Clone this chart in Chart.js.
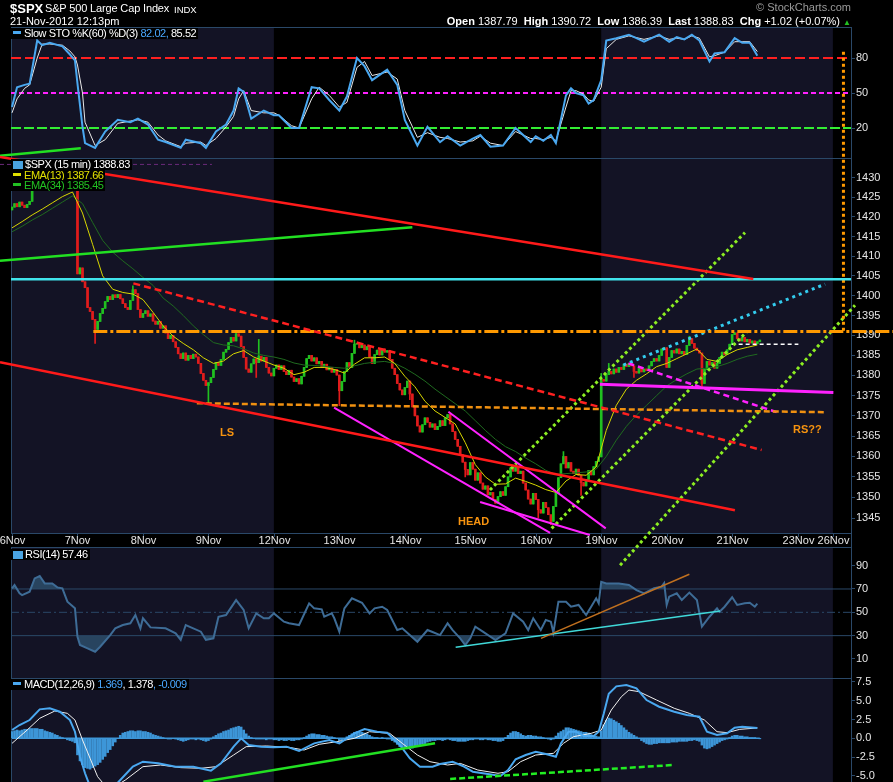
<!DOCTYPE html>
<html>
<head>
<meta charset="utf-8">
<title>$SPX 15 min</title>
<script src="https://cdn.jsdelivr.net/npm/chart.js"></script>
<style>
  body { margin: 0; background: #000; width: 893px; height: 782px; overflow: hidden; position: relative;
         font-family: "Liberation Sans", Arial, sans-serif; }
  #spx { position: absolute; left: 0; top: 0; }
  .t { position: absolute; white-space: nowrap; color: #fff; }
  .lg { position: absolute; white-space: nowrap; background: #000; color: #fff; font-size: 11px;
        letter-spacing: -0.45px; line-height: 11px; padding: 0 2px 0 2px; }
  .bar { display: inline-block; width: 8px; height: 3px; vertical-align: 3px; margin-right: 3px; }
  .ic { display: inline-block; width: 10px; height: 8px; vertical-align: -1px; margin-right: 2px; background: #4aa3e0; }
  .note { position: absolute; white-space: nowrap; color: #f7930f; font-weight: bold; font-size: 11px; }
  .blue { color: #4aa8ff; }
</style>
</head>
<body>
<canvas id="spx" width="893" height="782"></canvas>

<div class="t" style="left:10px;top:1px;font-size:13px;font-weight:bold">$SPX</div>
<div class="t" style="left:45px;top:2px;font-size:11px;letter-spacing:-0.15px">S&amp;P 500 Large Cap Index</div>
<div class="t" style="left:174px;top:4px;font-size:9.5px">INDX</div>
<div class="t" style="left:10px;top:15px;font-size:11px">21-Nov-2012 12:13pm</div>
<div class="t" style="right:42px;top:1px;font-size:11px;color:#9a9a9a">&copy; StockCharts.com</div>
<div class="t" style="right:42px;top:15px;font-size:11px"><b>Open</b> 1387.79&nbsp; <b>High</b> 1390.72&nbsp; <b>Low</b> 1386.39&nbsp; <b>Last</b> 1388.83&nbsp; <b>Chg</b> +1.02 (+0.07%) <span style="color:#22c022;font-size:8px">&#9650;</span></div>

<div class="lg" style="left:11px;top:28px"><span class="bar" style="background:#4aa8f0"></span>Slow STO %K(60) %D(3) <span class="blue">82.02,</span> 85.52</div>
<div class="lg" style="left:11px;top:159px"><span class="ic"></span>$SPX (15 min) 1388.83</div>
<div class="lg" style="left:11px;top:170px;color:#e0e000"><span class="bar" style="background:#e0e000"></span>EMA(13) 1387.66</div>
<div class="lg" style="left:11px;top:180px;color:#22c022"><span class="bar" style="background:#22c022"></span>EMA(34) 1385.45</div>
<div class="lg" style="left:11px;top:549px"><span class="ic"></span>RSI(14) 57.46</div>
<div class="lg" style="left:11px;top:679px"><span class="bar" style="background:#4aa8f0"></span>MACD(12,26,9) <span class="blue">1.369</span>, 1.378<span class="blue">, -0.009</span></div>

<div class="note" style="left:220px;top:426px">LS</div>
<div class="note" style="left:458px;top:515px">HEAD</div>
<div class="note" style="left:793px;top:423px">RS??</div>

<script>
// ---- time axis: one step per 15 min bar, 26 bars per session (23Nov half day) ----
const dayLabels = ['6Nov', '7Nov', '8Nov', '9Nov', '12Nov', '13Nov', '14Nov', '15Nov', '16Nov', '19Nov', '20Nov', '21Nov', '23Nov', '26Nov'];
const dayStart = [0, 26, 52, 78, 104, 130, 156, 182, 208, 234, 260, 286, 312, 326];
const shadedWeeks = [[-0.4, 104], [234, 326]];

// ---- $SPX 15 min closes ----
const firstOpen = 1421.8;
const closes = [
  1422.5, 1423.4, 1422.6, 1423.8, 1423.0, 1422.4, 1423.2, 1424.0, 1426.8, 1427.4, 1426.9, 1428.0, 1427.5,
  1428.6, 1429.2, 1428.7, 1429.5, 1429.0, 1428.4, 1428.9, 1428.2, 1428.7, 1427.9, 1428.5, 1427.8, 1428.4,
  1405.5, 1407.0, 1403.5, 1402.0, 1397.0, 1396.0, 1394.0, 1391.5, 1393.5, 1395.5, 1396.8, 1398.5, 1399.8,
  1399.0, 1400.2, 1399.5, 1400.3, 1399.2, 1398.0, 1397.0, 1396.5, 1398.8, 1401.5, 1400.5, 1396.5, 1394.5,
  1395.5, 1396.2, 1394.8, 1395.4, 1393.6, 1392.8, 1393.5, 1391.8, 1392.4, 1390.6, 1389.2, 1390.0, 1388.4,
  1387.0, 1385.4, 1384.2, 1385.6, 1383.8, 1385.0, 1384.2, 1385.3, 1384.6, 1383.0, 1380.5, 1378.8, 1377.5,
  1378.2, 1379.5, 1381.5, 1383.2, 1382.5, 1384.0, 1385.8, 1386.5, 1388.2, 1389.5, 1388.6, 1390.4, 1389.8,
  1387.2, 1384.5, 1381.6, 1380.8, 1382.9, 1384.1, 1383.2, 1384.8, 1383.6, 1384.5, 1382.0, 1380.6, 1379.9,
  1381.8, 1382.6, 1381.5, 1382.4, 1381.0, 1380.2, 1381.3, 1379.6, 1378.5, 1379.2, 1377.9, 1379.8, 1382.0,
  1384.2, 1385.0, 1383.6, 1384.4, 1382.9, 1383.5, 1382.1, 1382.8, 1381.4, 1382.0, 1380.8, 1381.5, 1380.1,
  1376.2, 1378.5, 1381.0, 1383.2, 1382.0, 1385.5, 1387.8, 1388.0, 1386.9, 1387.6, 1386.4, 1387.2, 1384.6,
  1383.0, 1385.2, 1386.3, 1385.1, 1386.6, 1385.8, 1386.2, 1384.0, 1381.8, 1380.2, 1378.0, 1376.4, 1375.2,
  1377.0, 1378.6, 1375.4, 1372.2, 1370.0, 1367.5, 1366.0, 1367.8, 1369.5, 1368.4, 1367.2, 1368.0, 1366.6,
  1367.4, 1368.8, 1367.6, 1369.5, 1370.3, 1368.0, 1366.1, 1364.2, 1362.5, 1360.4, 1358.6, 1356.8, 1355.5,
  1358.5, 1356.9, 1354.2, 1356.0, 1353.5, 1352.0, 1352.8, 1350.6, 1351.2, 1349.5, 1348.6, 1350.2, 1351.4,
  1350.5, 1352.6, 1355.0, 1357.2, 1356.4, 1357.5, 1355.8, 1356.4, 1353.5, 1351.8, 1349.6, 1348.4, 1351.0,
  1349.5, 1347.0, 1346.2, 1348.8, 1347.5, 1345.8, 1344.2, 1347.8, 1351.0, 1354.8, 1358.2, 1360.0, 1357.2,
  1358.5, 1356.4, 1355.8, 1356.9, 1355.4, 1353.6, 1352.8, 1354.4, 1356.6, 1355.5, 1357.5, 1358.8, 1359.9,
  1379.0, 1378.6, 1380.2, 1381.0, 1380.4, 1381.6, 1380.8, 1382.0, 1381.5, 1382.8, 1382.2, 1383.0, 1382.4,
  1381.0, 1380.6, 1381.8, 1380.9, 1381.6, 1381.2, 1382.4, 1383.5, 1384.2, 1383.6, 1385.0, 1386.6, 1386.9,
  1382.0, 1384.5, 1386.2, 1385.6, 1386.6, 1385.4, 1386.0, 1385.2, 1387.5, 1389.2, 1388.0, 1386.8, 1386.2,
  1385.6, 1378.0, 1381.5, 1383.5, 1382.6, 1383.2, 1381.8, 1383.0, 1384.5, 1385.8, 1385.2, 1386.4, 1387.8,
  1390.2, 1390.6, 1389.2, 1388.6, 1389.5, 1388.4, 1389.0, 1388.1, 1388.6, 1387.9, 1388.4, 1388.83
];
// notable wicks [bar, price]
const wickHigh = [[26, 1428.6], [48, 1402.5], [89, 1391.2], [98, 1389.0], [136, 1388.8], [219, 1361.2],
                  [234, 1380.5], [237, 1383.0], [269, 1389.8], [287, 1390.72]];
const wickLow = [[33, 1388.0], [78, 1373.0], [97, 1379.5], [130, 1372.5], [158, 1374.0], [180, 1355.0],
                 [209, 1345.0], [214, 1343.4], [226, 1350.5], [247, 1379.5], [274, 1377.2]];

// ---- moving averages, read every 4 bars ----
const emaStep = 4;
const ema13 = [
  1417.2, 1418.8, 1420.5, 1422.0, 1423.6, 1425.2, 1426.4, 1421.0, 1413.0, 1405.0, 1401.6, 1400.8, 1400.4,
  1399.0, 1395.8, 1392.4, 1389.8, 1388.0, 1386.4, 1384.4, 1383.0, 1383.6, 1385.4, 1386.2, 1384.6, 1383.6,
  1382.6, 1381.8, 1380.2, 1380.8, 1382.0, 1382.0, 1381.5, 1380.6, 1382.8, 1384.4, 1384.4, 1384.6, 1383.0,
  1379.8, 1377.2, 1373.6, 1371.2, 1369.6, 1368.0, 1363.4, 1358.0, 1355.0, 1353.2, 1353.3, 1354.7, 1353.9,
  1353.0, 1351.9, 1351.2, 1354.0, 1355.6, 1355.4, 1357.4, 1366.4, 1372.6, 1376.6, 1378.8, 1380.4, 1382.2,
  1383.0, 1384.2, 1385.4, 1386.6, 1384.0, 1383.5, 1385.2, 1386.4, 1387.0, 1387.6
];
const ema34 = [
  1416.2, 1417.6, 1419.2, 1420.6, 1422.2, 1423.8, 1425.4, 1423.4, 1418.6, 1414.0, 1411.0, 1408.8, 1406.8,
  1404.6, 1402.6, 1399.4, 1397.4, 1395.0, 1392.4, 1390.2, 1388.2, 1387.6, 1387.4, 1386.6, 1385.6, 1385.0,
  1384.6, 1384.0, 1383.1, 1382.6, 1382.5, 1382.3, 1382.0, 1381.8, 1382.4, 1383.0, 1383.3, 1383.5, 1383.0,
  1381.8, 1380.3, 1378.6, 1376.6, 1374.8, 1373.0, 1371.2, 1368.8, 1366.4, 1364.2, 1362.4, 1361.2, 1359.6,
  1358.2, 1356.6, 1355.6, 1355.8, 1356.0, 1356.2, 1356.9, 1360.0, 1364.0, 1367.4, 1370.2, 1372.6, 1375.0,
  1377.4, 1379.0, 1380.4, 1381.6, 1381.8, 1382.2, 1383.0, 1384.0, 1384.8, 1385.3
];

// ---- Slow STO %K(60) %D(3) ----
const stoIdx = [0, 2, 5, 7, 10, 12, 15, 20, 23, 25, 26, 28, 29, 33, 37, 42, 47, 50, 54, 58, 61, 67, 69, 75, 77, 81,
  85, 88, 90, 92, 95, 100, 104, 106, 111, 114, 119, 122, 126, 130, 133, 137, 140, 143, 149, 153, 156, 161, 165,
  170, 173, 178, 183, 186, 190, 195, 200, 206, 208, 211, 214, 216, 220, 222, 224, 227, 229, 231, 234, 236, 240,
  245, 251, 257, 261, 264, 267, 270, 273, 277, 279, 283, 287, 290, 293, 296];
const stoK = [38, 55, 57, 58, 95, 91, 93, 90, 83, 78, 58, 21, 7, 3, 17, 27, 25, 28, 23, 10, 8, 3, 10, 7, 3, 17,
  23, 35, 54, 51, 28, 35, 31, 31, 20, 20, 55, 54, 44, 35, 47, 80, 73, 61, 70, 57, 27, 5, 21,
  8, 13, 5, 11, 14, 4, 5, 20, 8, 13, 9, 14, 7, 48, 54, 50, 48, 41, 44, 61, 95, 97,
  100, 94, 100, 94, 98, 96, 100, 95, 77, 84, 85, 97, 93, 93, 82.02];
const stoD = [33, 45, 54, 57, 80, 92, 92, 91, 86, 81, 74, 50, 25, 5, 10, 24, 26, 27, 25, 14, 9, 4, 7, 8, 5, 11,
  21, 30, 45, 52, 35, 33, 33, 31, 22, 20, 45, 55, 48, 38, 42, 72, 77, 65, 68, 62, 35, 12, 16,
  12, 11, 8, 9, 13, 7, 5, 17, 11, 11, 10, 12, 9, 38, 52, 52, 49, 44, 43, 55, 88, 96,
  99, 96, 99, 96, 97, 96, 99, 97, 81, 82, 85, 94, 94, 94, 85.52];
const stoLevels = [80, 50, 20];

// ---- RSI(14) [bar, value] ----
const rsi = [[0, 70.6], [1, 73.4], [3, 66.3], [4, 64.8], [7, 67.7], [9, 79.1], [11, 81.1], [13, 74.8], [16, 74.8],
  [18, 71.4], [20, 70.6], [22, 59.1], [25, 53.4], [26, 29.1], [27, 22], [30, 19.1], [33, 16.2], [35, 20.5],
  [39, 30.5], [41, 36.3], [44, 39.1], [47, 40.6], [49, 47.7], [51, 36.3], [52, 44.9], [55, 37.1], [61, 36.3],
  [65, 32], [67, 26.3], [69, 39.1], [75, 33.4], [77, 26.3], [80, 27.7], [82, 46.2], [85, 47.7], [89, 60.5],
  [92, 52], [94, 36.3], [97, 49.1], [100, 44.9], [102, 44.9], [104, 49.1], [108, 42], [110, 40.6], [114, 39.1],
  [118, 57.7], [120, 53.4], [123, 52.6], [124, 46.2], [127, 49.1], [128, 44.9], [130, 33.4], [132, 53.4],
  [135, 62], [139, 58.2], [142, 49.1], [144, 53.4], [147, 54.8], [149, 52], [153, 34.8], [155, 36.3],
  [161, 24.8], [165, 34.8], [167, 33.1], [170, 30.5], [173, 40.6], [175, 34.8], [178, 27.7], [180, 22],
  [182, 27.7], [184, 37.7], [187, 33.4], [192, 26.3], [196, 32], [199, 49.1], [203, 42], [205, 34.8],
  [207, 44.9], [210, 34.8], [212, 43.4], [214, 42], [215, 32.6], [217, 59.1], [220, 59.1], [222, 54.8],
  [225, 56.3], [228, 47.7], [230, 54.8], [232, 62], [233, 57.7], [234, 76.2], [236, 74.8], [241, 74.8],
  [245, 73.4], [248, 69.1], [251, 66.3], [255, 70.6], [258, 72], [259, 75], [260, 56.3], [261, 63.4],
  [264, 66.3], [266, 60.5], [269, 66.9], [272, 60.5], [274, 37.7], [277, 46.2], [280, 53.4], [281, 50.5],
  [283, 54.8], [286, 62.9], [288, 56.3], [291, 57.7], [293, 58.2], [295, 54.8], [296, 57.46]];
const rsiLevels = [70, 50, 30];

// ---- MACD(12,26,9) [bar, value] ----
const macd = [[0, 1.1], [3, 1.77], [7, 2.43], [11, 3.85], [15, 3.99], [19, 3.54], [23, 2.43], [25, 0.88],
  [27, -2.45], [29, -4.65], [31, -6.4], [34, -7.5], [37, -7.4], [40, -6.6], [43, -5.55], [48, -3.77],
  [52, -3.11], [58, -3.33], [65, -3.77], [72, -3.77], [79, -4.3], [83, -3.33], [88, -1.11], [91, 0],
  [94, -0.89], [99, -1.11], [104, -1.2], [109, -1.11], [114, -1.69], [120, -0.67], [126, -0.22], [130, -0.67],
  [136, 0.66], [140, 1.24], [145, 0.88], [149, 0.75], [154, -0.89], [158, -2.66], [162, -3.77], [167, -3.77],
  [170, -3.42], [175, -3.11], [179, -3.68], [183, -4.44], [189, -4.75], [194, -5.01], [197, -4.22],
  [200, -2.79], [204, -2.22], [208, -1.78], [212, -2.09], [216, -2.45], [218, -0.67], [221, 0.88],
  [224, 0.88], [227, 0.31], [231, 0.31], [233, 0.88], [235, 3.27], [237, 5.93], [240, 6.91], [244, 7.09],
  [248, 6.65], [252, 5.09], [257, 4.2], [263, 3.54], [268, 3.1], [273, 2.87], [276, 0.88], [280, 0.44],
  [284, 0.66], [287, 1.41], [290, 1.54], [296, 1.369]];
const signal = [[0, -0.67], [6, 1.1], [11, 2.66], [17, 3.63], [22, 3.32], [25, 2.43], [28, -0.22], [31, -2.66],
  [34, -5.1], [37, -6.3], [41, -6.4], [45, -5.55], [52, -3.77], [59, -3.55], [67, -3.9], [75, -3.99],
  [81, -3.77], [88, -2.22], [93, -1.11], [101, -1.02], [110, -1.2], [116, -1.56], [122, -0.8], [129, -0.45],
  [136, 0], [142, 0.88], [150, 0.66], [155, -0.67], [161, -2.22], [166, -3.11], [173, -3.55], [178, -3.33],
  [185, -4.22], [193, -4.65], [197, -4.44], [202, -3.11], [208, -2.22], [215, -2], [219, -0.67], [223, 0.22],
  [230, 0.66], [234, 1.1], [238, 3.76], [242, 5.53], [245, 6.42], [249, 6.2], [256, 5.09], [263, 3.99],
  [269, 3.32], [275, 2.43], [280, 0.88], [284, 0.75], [289, 1.19], [296, 1.378]];
const histogram = [
  0.9, 1.0, 1.1, 1.0, 1.1, 1.2, 1.2, 1.3, 1.3, 1.3, 1.3, 1.2, 1.2, 1.0, 0.9, 0.8, 0.7, 0.5, 0.4, 0.2,
  0.1, 0.0, -0.2, -0.3, -0.4, -0.6, -2.2, -3.0, -3.5, -3.9, -4.0, -4.1, -3.9, -3.7, -3.5, -3.2, -2.8, -2.4, -1.9, -1.5,
  -1.0, -0.5, 0.0, 0.4, 0.7, 0.8, 0.9, 1.0, 1.0, 0.9, 1.0, 1.0, 0.9, 0.9, 0.8, 0.7, 0.5, 0.4, 0.3, 0.2,
  0.1, 0.0, -0.1, -0.1, 0.0, -0.1, -0.2, -0.3, -0.4, -0.3, -0.2, -0.1, -0.1, -0.2, -0.1, -0.2, -0.3, -0.4, -0.3, -0.1,
  0.2, 0.4, 0.6, 0.7, 0.9, 1.0, 1.1, 1.3, 1.4, 1.5, 1.6, 1.5, 1.1, 0.6, 0.3, 0.1, 0.0, -0.1, -0.1, -0.1,
  -0.1, -0.2, -0.1, -0.1, -0.2, -0.2, -0.3, -0.2, -0.3, -0.3, -0.2, -0.3, -0.3, -0.2, -0.2, -0.1, 0.1, 0.3, 0.5, 0.6,
  0.6, 0.5, 0.5, 0.4, 0.4, 0.3, 0.2, 0.2, 0.1, 0.0, -0.3, -0.2, -0.1, 0.2, 0.4, 0.6, 0.8, 0.9, 0.8, 0.8,
  0.7, 0.6, 0.4, 0.2, 0.1, 0.1, 0.0, 0.1, 0.0, -0.1, -0.1, -0.3, -0.5, -0.8, -1.1, -1.2, -1.3, -1.4, -1.3, -1.3,
  -1.1, -1.0, -0.9, -0.8, -0.7, -0.5, -0.4, -0.3, -0.3, -0.2, -0.2, -0.3, -0.2, -0.1, -0.2, -0.3, -0.3, -0.4, -0.4, -0.4,
  -0.4, -0.3, -0.2, -0.2, -0.1, -0.1, -0.2, -0.2, -0.1, -0.2, -0.2, -0.3, -0.3, -0.4, -0.4, -0.3, 0.1, 0.4, 0.7, 0.9,
  0.9, 0.8, 0.6, 0.4, 0.3, 0.4, 0.4, 0.3, 0.3, 0.2, 0.2, 0.1, 0.0, -0.1, -0.2, -0.1, 0.3, 0.7, 0.9, 1.1,
  1.4, 1.4, 1.3, 1.2, 1.1, 1.0, 0.9, 0.8, 0.8, 0.7, 0.5, 0.4, 0.3, 0.2, 1.0, 1.8, 2.4, 2.7, 2.6, 2.4,
  2.2, 2.0, 1.7, 1.4, 1.1, 0.8, 0.6, 0.4, 0.2, 0.0, -0.3, -0.5, -0.7, -0.8, -0.8, -0.7, -0.7, -0.6, -0.6, -0.6,
  -0.6, -0.6, -0.5, -0.5, -0.5, -0.4, -0.4, -0.4, -0.4, -0.3, -0.3, -0.2, -0.3, -0.4, -0.9, -1.3, -1.4, -1.3, -1.1, -0.9,
  -0.7, -0.5, -0.3, -0.2, -0.1, 0.1, 0.3, 0.4, 0.4, 0.3, 0.3, 0.2, 0.2, 0.1, 0.1, 0.1, 0.0, -0.01
];

// ---- hand drawn annotations, endpoints as [bar, value] ----
const redTopLine = [[-4.77, 1435.4], [294.4, 1404.2]];
const redLowLine = [[-4.77, 1383.3], [287.1, 1346.9]];
const redDashLine = [[48.2, 1403.1], [297.7, 1361.6]];
const greenPriceLine = [[-4.77, 1408.84], [159.0, 1417.35]];
const greenStoLine = [[-4.77, -3.75], [27.3, 2.6]];
const cyanLevel = [[-0.4, 1404.13], [333.2, 1404.13]];
const orangeLevel = [[32.3, 1391.0], [349.9, 1391.0]];
const orangeVertical = [[330.2, 1462.9], [330.2, 1390.6]];
const necklineLine = [[73.4, 1373.1], [322.9, 1370.9]];
const wedgeLines = [[[127.9, 1372.0], [213.7, 1341.4]], [[173.3, 1371.0], [235.8, 1342.5]], [[185.9, 1348.9], [229.5, 1340.9]]];
const magentaSupport = [[233.5, 1377.8], [326.2, 1375.8]];
const magentaDash = [[244.8, 1383.0], [303.7, 1370.9]];
const channelLines = [[[189.8, 1351.8], [291.1, 1416.0]], [[214.3, 1342.5], [291.8, 1390.9]], [[241.5, 1333.6], [334.8, 1397.6]]];
const cyanDotLine = [[242.8, 1382.6], [322.9, 1402.9]];
const lastPriceLine = [[285.8, 1387.8], [312.3, 1387.8]];
const purpleLine = [[-4.77, 1433.5], [79.4, 1433.5]];
const rsiOrangeLine = [[210.1, 27.7], [269.0, 82.6]];
const rsiCyanLine = [[176.2, 20.0], [281.2, 51.1]];
const macdGreenLine = [[76.0, -5.77], [168.0, -0.66]];
const macdGreenDash = [[174.0, -5.41], [262.6, -3.55]];

const stoTicks = [20, 50, 80];
const priceTicks = [1345, 1350, 1355, 1360, 1365, 1370, 1375, 1380, 1385, 1390, 1395, 1400, 1405, 1410, 1415, 1420, 1425, 1430];
const rsiTicks = [10, 30, 50, 70, 90];
const macdTicks = [-5, -2.5, 0, 2.5, 5, 7.5];

// ---- build ----
const xMin = -0.4, xMax = 333.2;
const borderColor = '#2a4868';
const shadeColor = '#131325';
const upColor = '#20c020', downColor = '#e01c1c';

const opens = closes.map((c, i) => (i === 0 ? firstOpen : closes[i - 1]));
const hiMap = new Map(wickHigh), loMap = new Map(wickLow);

const pts = arr => arr.map(p => ({ x: p[0], y: p[1] }));

function seg(axis, data, color, width, dash, order) {
    return {
        type: 'line', yAxisID: axis, data: pts(data),
        borderColor: color, borderWidth: width, borderDash: dash || [],
        borderCapStyle: 'butt', pointRadius: 0, fill: false, clip: false, tension: 0,
        order: order === undefined ? 1 : order
    };
}

function series(axis, data, color, width, order) {
    return {
        type: 'line', yAxisID: axis, data: data, borderColor: color, borderWidth: width,
        pointRadius: 0, fill: false, tension: 0, order: order
    };
}

const datasets = [];

// annotations (top)
datasets.push(seg('yPrice', redTopLine, '#ff1a1a', 2.5));
datasets.push(seg('yPrice', redLowLine, '#ff1a1a', 2.5));
datasets.push(seg('yPrice', redDashLine, '#ff2020', 2.5, [7, 4]));
datasets.push(seg('yPrice', greenPriceLine, '#22e022', 2.5));
datasets.push(seg('ySto', greenStoLine, '#22e022', 2.5));
datasets.push(seg('yPrice', cyanLevel, '#40e4ec', 2.5));
datasets.push(seg('yPrice', orangeLevel, '#ff9900', 3, [14, 3, 3, 3]));
datasets.push(seg('yPrice', orangeVertical, '#ff9900', 3, [3, 3]));
datasets.push(seg('yPrice', necklineLine, '#f09010', 2.5, [6, 3]));
wedgeLines.forEach(l => datasets.push(seg('yPrice', l, '#ff22ff', 2)));
datasets.push(seg('yPrice', magentaSupport, '#ff22ff', 3));
datasets.push(seg('yPrice', magentaDash, '#ff22ff', 2.5, [6, 4]));
channelLines.forEach(l => datasets.push(seg('yPrice', l, '#8cee22', 3, [3, 3])));
datasets.push(seg('yPrice', cyanDotLine, '#33ccee', 3, [3, 4]));
datasets.push(seg('yPrice', lastPriceLine, '#ffffff', 1.5, [4, 3]));
datasets.push(seg('yPrice', purpleLine, '#6b2a7b', 1, [4, 3], 9));
datasets.push(seg('yRsi', rsiOrangeLine, '#c0701f', 1.5));
datasets.push(seg('yRsi', rsiCyanLine, '#40d8d8', 1.5));
datasets.push(seg('yMacd', macdGreenLine, '#22e022', 2.5));
datasets.push(seg('yMacd', macdGreenDash, '#22ee22', 2.5, [6, 3]));

// indicators
datasets.push(series('ySto', stoIdx.map((x, k) => ({ x: x, y: stoK[k] })), '#4aa8f0', 2, 3));
datasets.push(series('ySto', stoIdx.map((x, k) => ({ x: x, y: stoD[k] })), '#e8e8e8', 1, 3.5));
datasets.push(series('yPrice', ema13.map((v, k) => ({ x: k * emaStep, y: v })), '#d8d800', 1, 4));
datasets.push(series('yPrice', ema34.map((v, k) => ({ x: k * emaStep, y: v })), '#1f6a1f', 1, 4));

const rsiLine = series('yRsi', pts(rsi), '#3e6c96', 2, 3);
rsiLine.fill = { target: { value: 70 }, above: 'rgba(43,74,102,0.9)', below: 'rgba(0,0,0,0)' };
datasets.push(rsiLine);
const rsiLow = series('yRsi', pts(rsi), 'rgba(0,0,0,0)', 0, 3.5);
rsiLow.fill = { target: { value: 30 }, above: 'rgba(0,0,0,0)', below: 'rgba(43,74,102,0.9)' };
datasets.push(rsiLow);

datasets.push(series('yMacd', pts(macd), '#4aa8f0', 2, 3));
datasets.push(series('yMacd', pts(signal), '#f0f0f0', 1, 3.2));
datasets.push(series('yMacd', [{ x: 0, y: 0 }, { x: histogram.length - 1, y: 0 }], '#3d96d8', 1.5, 5));
datasets.push({
    type: 'bar', yAxisID: 'yMacd', data: histogram.map((v, i) => ({ x: i, y: v })),
    backgroundColor: '#3d96d8', barThickness: 2, grouped: false, order: 6
});

// candles
datasets.push({
    type: 'bar', yAxisID: 'yPrice',
    data: closes.map((c, i) => ({ x: i, y: [opens[i], c] })),
    backgroundColor: closes.map((c, i) => (c >= opens[i] ? upColor : downColor)),
    barThickness: 2, grouped: false, order: 5
});
datasets.push({
    type: 'bar', yAxisID: 'yPrice',
    data: closes.map((c, i) => ({
        x: i,
        y: [Math.min(opens[i], c, loMap.has(i) ? loMap.get(i) : Infinity),
            Math.max(opens[i], c, hiMap.has(i) ? hiMap.get(i) : -Infinity)]
    })),
    backgroundColor: closes.map((c, i) => (c >= opens[i] ? upColor : downColor)),
    barThickness: 1, grouped: false, order: 6
});

// level lines
const levelColors = { 80: '#ff2020', 50: '#ff22ff', 20: '#33ee33' };
const levelDash = { 80: [10, 4], 50: [5, 3], 20: [10, 3] };
stoLevels.forEach(v => datasets.push(seg('ySto', [[xMin, v], [xMax, v]], levelColors[v], 2, levelDash[v], 7)));
rsiLevels.forEach(v => datasets.push(seg('yRsi', [[xMin, v], [xMax, v]], borderColor, 1, v === 50 ? [8, 3, 2, 3] : [], 8)));

function fixAxis(scale) {
    scale.width = 42;
    scale.paddingTop = 0;
    scale.paddingBottom = 0;
}

function rightAxis(type, weight, min, max, tickList, fmt) {
    return {
        type: type, position: 'right', stack: 'panels', stackWeight: weight, min: min, max: max, offset: false,
        grid: { drawOnChartArea: false, tickLength: 4, color: borderColor },
        border: { color: borderColor },
        ticks: { color: '#e6e6e6', font: { size: 11 }, padding: 1, autoSkip: false, callback: fmt },
        afterBuildTicks: s => { s.ticks = tickList.map(v => ({ value: v })); },
        afterFit: fixAxis
    };
}

const panelsPlugin = {
    id: 'panels',
    beforeDraw(chart) {
        const { ctx, scales, chartArea } = chart;
        ctx.save();
        ctx.fillStyle = '#000';
        ctx.fillRect(0, 0, chart.width, chart.height);
        ctx.fillStyle = shadeColor;
        ['ySto', 'yPrice', 'yRsi', 'yMacd'].forEach(id => {
            const s = scales[id];
            shadedWeeks.forEach(w => {
                const l = Math.max(scales.x.getPixelForValue(w[0]), chartArea.left);
                const r = Math.min(scales.x.getPixelForValue(w[1]), chartArea.right);
                ctx.fillRect(l, s.top, r - l, s.bottom - s.top);
            });
        });
        ctx.restore();
    },
    beforeDatasetsDraw(chart) {
        const { ctx, scales, chartArea } = chart;
        ctx.save();
        ctx.strokeStyle = borderColor;
        ctx.lineWidth = 1;
        ['ySto', 'yPrice', 'yRsi', 'yMacd'].forEach(id => {
            const s = scales[id];
            ctx.strokeRect(chartArea.left + 0.5, s.top + 0.5, chartArea.right - chartArea.left, s.bottom - s.top);
        });
        const g = scales.yGap, p = scales.yPrice;
        ctx.fillStyle = '#e6e6e6';
        ctx.font = '11px "Liberation Sans"';
        ctx.textAlign = 'center';
        ctx.textBaseline = 'middle';
        dayStart.forEach((d, k) => {
            const px = Math.round(scales.x.getPixelForValue(d)) + 0.5;
            ctx.beginPath();
            ctx.moveTo(px, p.bottom);
            ctx.lineTo(px, p.bottom + 4);
            ctx.stroke();
            ctx.fillText(dayLabels[k], px, (g.top + g.bottom) / 2 + 1);
        });
        ctx.restore();
    }
};

Chart.defaults.font.family = '"Liberation Sans", Arial, sans-serif';

new Chart(document.getElementById('spx'), {
    type: 'line',
    data: { datasets: datasets },
    options: {
        responsive: false,
        animation: false,
        devicePixelRatio: 1,
        events: [],
        layout: { padding: { left: 11, top: 27, right: 0, bottom: 0 } },
        plugins: { legend: { display: false }, tooltip: { enabled: false } },
        scales: {
            x: { type: 'linear', min: xMin, max: xMax, display: false, offset: false },
            ySto: rightAxis('linear', 131, -5.7, 106.6, stoTicks, v => v),
            yPrice: rightAxis('logarithmic', 375, 1341.37, 1435.16, priceTicks, v => v),
            yGap: Object.assign(rightAxis('linear', 14, 0, 1, [], v => ''), { grid: { display: false } }),
            yRsi: rightAxis('linear', 131, -6.3, 106, rsiTicks, v => v),
            yMacd: rightAxis('linear', 104, -5.81, 8.02, macdTicks, v => v.toFixed(1))
        }
    },
    plugins: [panelsPlugin]
});
</script>
</body>
</html>
